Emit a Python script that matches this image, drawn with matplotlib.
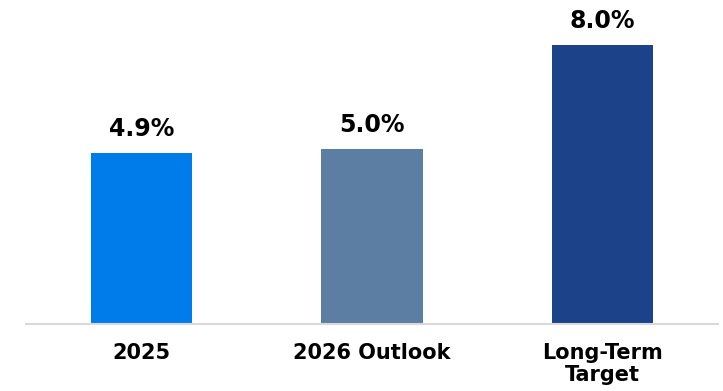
import matplotlib.pyplot as plt

categories = ['2025', '2026 Outlook', 'Long-Term\nTarget']
values = [4.9, 5.0, 8.0]
colors = ['#007bea', '#5b7ea2', '#1c428a']


def main():
    fig = plt.figure(figsize=(7.23, 3.91), dpi=100)
    ax = fig.add_axes([0.036, 0.1714, 0.957, 0.8286])

    x = range(len(values))
    ax.bar(x, values, width=0.44, color=colors)

    # value labels sit a fixed distance above each bar
    for xi, v in zip(x, values):
        ax.text(xi, v + 0.49, '%.1f%%' % v, ha='center', va='baseline',
                fontsize=17, fontweight='bold', color='black')

    ax.set_xlim(-0.5, 2.5)
    ax.set_ylim(0, 9.28)
    ax.set_xticks(list(x))
    ax.set_xticklabels(categories, fontsize=15, fontweight='bold',
                       linespacing=1.07)
    ax.tick_params(axis='x', length=0, pad=14)
    ax.set_yticks([])

    for side in ['top', 'right', 'left']:
        ax.spines[side].set_visible(False)
    ax.spines['bottom'].set_color('#d9d9d9')
    ax.spines['bottom'].set_linewidth(1.5)

    fig.savefig('out.png', dpi=100)


if __name__ == '__main__':
    main()
